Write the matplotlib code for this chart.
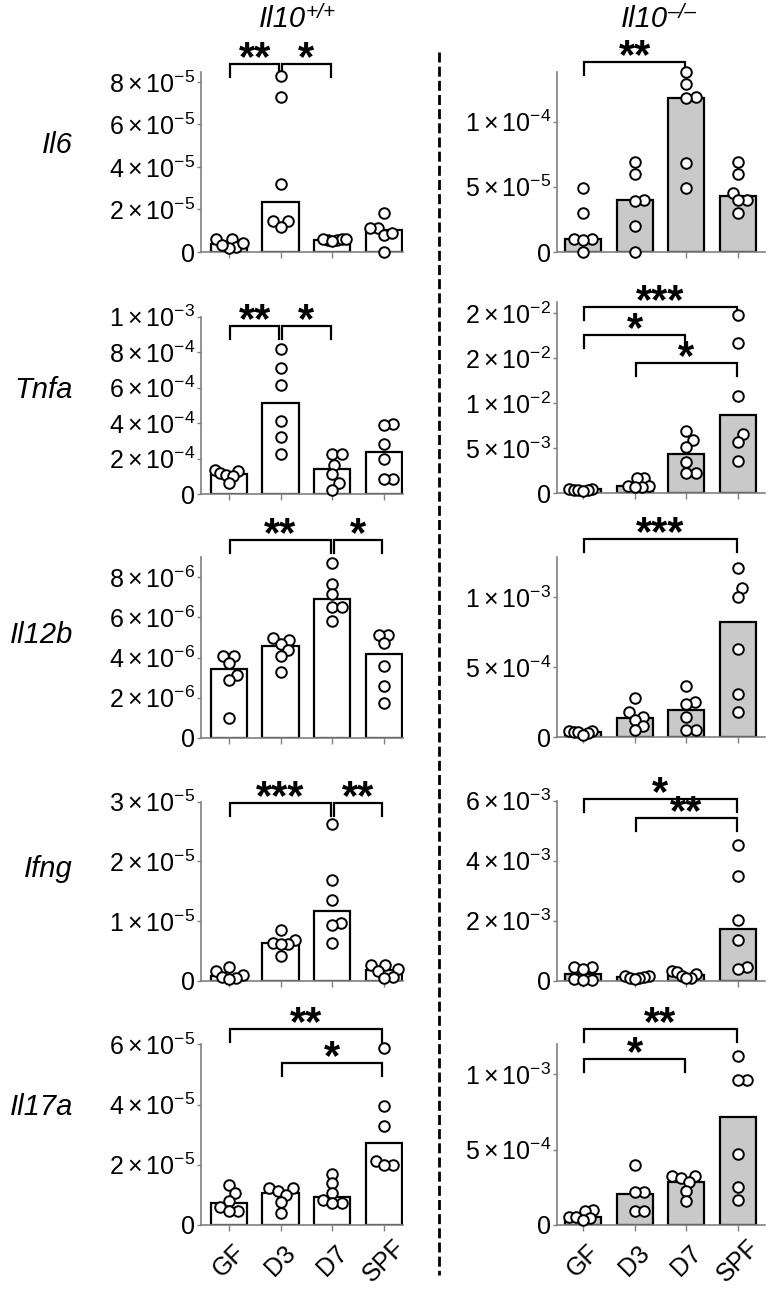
"""
Expressão de citocinas (GF, D3, D7, SPF) em Il10+/+ e Il10-/-.
"""
import numpy as np
import matplotlib
matplotlib.use('Agg')
import matplotlib.pyplot as plt
from matplotlib.lines import Line2D
from matplotlib.transforms import blended_transform_factory, offset_copy

plt.rcParams['font.family'] = ['Liberation Sans', 'DejaVu Sans']
plt.rcParams['mathtext.fontset'] = 'custom'
plt.rcParams['mathtext.rm'] = 'Liberation Sans'
plt.rcParams['mathtext.it'] = 'Liberation Sans:italic'
plt.rcParams['mathtext.bf'] = 'Liberation Sans:bold'
plt.rcParams['mathtext.fallback'] = 'stixsans'

# ---------------- dados ----------------
groups = ['GF', 'D3', 'D7', 'SPF']
genes = ['Il6', 'Tnfa', 'Il12b', 'Ifng', 'Il17a']

# Il6
il6_wt_bar = [3.8e-6, 2.37e-5, 5.6e-6, 1.03e-5]
il6_wt_pts = [[6.0e-6, 6.2e-6, 2.2e-6, 2.0e-6, 3.5e-6, 4.0e-6],
              [8.28e-5, 7.31e-5, 3.2e-5, 1.47e-5, 1.47e-5, 1.19e-5],
              [5.5e-6, 6.0e-6, 5.8e-6, 6.1e-6, 5.4e-6, 6.2e-6],
              [1.85e-5, 1.14e-5, 1.14e-5, 8.0e-6, 9.0e-6, 2.0e-7]]
il6_ko_bar = [1.0e-5, 4.0e-5, 1.184e-4, 4.28e-5]
il6_ko_pts = [[4.9e-5, 3.0e-5, 1.0e-5, 1.0e-5, 0.95e-5, 0.0],
              [6.9e-5, 6.0e-5, 4.0e-5, 3.9e-5, 2.0e-5, 0.0],
              [1.38e-4, 1.285e-4, 1.185e-4, 1.18e-4, 6.86e-5, 4.92e-5],
              [6.9e-5, 6.0e-5, 4.55e-5, 4.0e-5, 3.95e-5, 3.0e-5]]

# Tnfa
tnfa_wt_bar = [1.13e-4, 5.16e-4, 1.43e-4, 2.38e-4]
tnfa_wt_pts = [[1.35e-4, 1.3e-4, 1.2e-4, 1.1e-4, 1.05e-4, 0.66e-4],
               [8.16e-4, 7.09e-4, 6.15e-4, 4.15e-4, 3.21e-4, 2.25e-4],
               [2.25e-4, 2.25e-4, 1.65e-4, 1.13e-4, 0.62e-4, 0.24e-4],
               [3.96e-4, 3.9e-4, 2.81e-4, 1.97e-4, 0.86e-4, 0.86e-4]]
tnfa_ko_bar = [4.5e-4, 8.3e-4, 4.32e-3, 8.76e-3]
tnfa_ko_pts = [[5e-4, 4.5e-4, 4e-4, 4e-4, 3.5e-4, 3e-4],
               [1.75e-3, 1.7e-3, 8.5e-4, 8e-4, 7.5e-4, 7e-4],
               [6.9e-3, 5.9e-3, 5.2e-3, 3.45e-3, 2.25e-3, 2.25e-3],
               [1.985e-2, 1.67e-2, 1.08e-2, 6.6e-3, 5.7e-3, 3.6e-3]]

# Il12b
il12b_wt_bar = [3.44e-6, 4.58e-6, 6.9e-6, 4.16e-6]
il12b_wt_pts = [[4.09e-6, 4.09e-6, 3.71e-6, 3.13e-6, 2.88e-6, 1.0e-6],
                [4.96e-6, 4.88e-6, 4.66e-6, 4.37e-6, 4.09e-6, 3.29e-6],
                [8.74e-6, 7.65e-6, 7.17e-6, 6.54e-6, 6.54e-6, 5.84e-6],
                [5.12e-6, 5.12e-6, 4.71e-6, 3.59e-6, 2.6e-6, 1.71e-6]]
il12b_ko_bar = [4.0e-5, 1.36e-4, 1.95e-4, 8.21e-4]
il12b_ko_pts = [[4.5e-5, 4.5e-5, 4e-5, 4e-5, 3e-5, 1.5e-5],
                [2.79e-4, 1.79e-4, 1.48e-4, 1.24e-4, 0.81e-4, 0.52e-4],
                [3.67e-4, 2.55e-4, 2.4e-4, 1.48e-4, 0.52e-4, 0.52e-4],
                [1.207e-3, 1.064e-3, 1.005e-3, 6.29e-4, 3.1e-4, 1.79e-4]]

# Ifng
ifng_wt_bar = [7.8e-7, 6.26e-6, 1.173e-5, 1.79e-6]
ifng_wt_pts = [[2.35e-6, 1.65e-6, 0.9e-6, 0.65e-6, 0.5e-6, 0.3e-6],
               [8.5e-6, 6.9e-6, 6.4e-6, 6.15e-6, 6.1e-6, 4.1e-6],
               [2.63e-5, 1.69e-5, 1.35e-5, 9.7e-6, 9.3e-6, 6.4e-6],
               [2.6e-6, 2.6e-6, 1.9e-6, 1.7e-6, 0.6e-6, 0.5e-6]]
ifng_ko_bar = [2.4e-4, 1.2e-4, 1.9e-4, 1.72e-3]
ifng_ko_pts = [[4.7e-4, 4.7e-4, 3.8e-4, 0.5e-4, 0.3e-4, 0.2e-4],
               [1.7e-4, 1.5e-4, 1.3e-4, 1.0e-4, 0.8e-4, 0.6e-4],
               [3.2e-4, 3.0e-4, 2.2e-4, 1.5e-4, 1.0e-4, 0.8e-4],
               [4.52e-3, 3.49e-3, 2.04e-3, 1.36e-3, 4.7e-4, 3.8e-4]]

# Il17a
il17a_wt_bar = [7.4e-6, 1.07e-5, 9.2e-6, 2.73e-5]
il17a_wt_pts = [[1.33e-5, 1.05e-5, 8.1e-6, 6.1e-6, 4.8e-6, 4.8e-6],
                [1.22e-5, 1.22e-5, 1.13e-5, 1.0e-5, 7.5e-6, 4.1e-6],
                [1.71e-5, 1.38e-5, 1.05e-5, 8.3e-6, 7.2e-6, 7.2e-6],
                [5.88e-5, 3.94e-5, 3.28e-5, 2.14e-5, 1.98e-5, 1.98e-5]]
il17a_ko_bar = [5.5e-5, 2.06e-4, 2.88e-4, 7.15e-4]
il17a_ko_pts = [[1.0e-4, 0.9e-4, 0.55e-4, 0.5e-4, 0.45e-4, 0.3e-4],
                [4.0e-4, 2.2e-4, 2.2e-4, 0.95e-4, 0.95e-4],
                [3.25e-4, 3.25e-4, 3.1e-4, 2.85e-4, 2.25e-4, 1.6e-4],
                [1.12e-3, 9.65e-4, 9.6e-4, 4.73e-4, 2.5e-4, 1.66e-4]]

# eixos y
il6_wt_ticks = [0, 2e-5, 4e-5, 6e-5, 8e-5]
il6_ko_ticks = [0, 5e-5, 1e-4]
tnfa_wt_ticks = [0, 2e-4, 4e-4, 6e-4, 8e-4, 1e-3]
tnfa_ko_ticks = [0, 5e-3, 1e-2, 1.5e-2, 2e-2]
il12b_wt_ticks = [0, 2e-6, 4e-6, 6e-6, 8e-6]
il12b_ko_ticks = [0, 5e-4, 1e-3]
ifng_wt_ticks = [0, 1e-5, 2e-5, 3e-5]
ifng_ko_ticks = [0, 2e-3, 4e-3, 6e-3]
il17a_wt_ticks = [0, 2e-5, 4e-5, 6e-5]
il17a_ko_ticks = [0, 5e-4, 1e-3]

# comparações significativas (grupo i, grupo j, rótulo)
il6_wt_sig = [(0, 1, '**'), (1, 2, '*')]
il6_ko_sig = [(0, 2, '**')]
tnfa_wt_sig = [(0, 1, '**'), (1, 2, '*')]
tnfa_ko_sig = [(0, 3, '***'), (0, 2, '*'), (1, 3, '*')]
il12b_wt_sig = [(0, 2, '**'), (2, 3, '*')]
il12b_ko_sig = [(0, 3, '***')]
ifng_wt_sig = [(0, 2, '***'), (2, 3, '**')]
ifng_ko_sig = [(0, 3, '*'), (1, 3, '**')]
il17a_wt_sig = [(0, 3, '**'), (1, 3, '*')]
il17a_ko_sig = [(0, 3, '**'), (0, 2, '*')]

# ---------------- layout (pixels) ----------------
W, H = 770, 1309
left_x = (201, 403)
right_x = (557, 765)
left_rows = [(252, 72), (494.3, 316.7), (737.7, 557.3), (980.7, 801.7), (1225, 1044.3)]
right_rows = [(252, 72), (493.3, 301.7), (737.3, 557.3), (980.7, 800.7), (1225, 1044.3)]
left_ymax = [8.47e-5, 1e-3, 9.0e-6, 3e-5, 6e-5]
right_ymax = [1.38e-4, 2.13e-2, 1.286e-3, 6e-3, 1.2e-3]
left_sig_y = [[1.043, 1.043], [0.948, 0.948], [1.096, 1.096], [0.994, 0.994], [1.083, 0.898]]
right_sig_y = [[1.057], [0.974, 0.826, 0.679], [1.102], [1.008, 0.906], [1.083, 0.917]]
label_base_y = [153, 398, 643, 877, 1115]

spine_gray = '#808080'
bar_gray = '#c9c9c9'
DOT = 11.0     # diâmetro do ponto em px
SPREAD = 14.0  # deslocamento máximo dos pontos em px


def swarm(ypx, d, limit):
    """Deslocamentos horizontais (px) tipo beeswarm, comprimidos dentro da barra."""
    order = np.argsort(ypx)
    placed = []
    out = np.zeros(len(ypx))
    for k in order:
        y = ypx[k]
        cands = [0.0]
        for (px, py) in placed:
            dy = y - py
            if abs(dy) < d:
                dx = np.sqrt(d * d - dy * dy)
                cands += [px + dx, px - dx]
        ok = [c for c in cands
              if all((c - px) ** 2 + (y - py) ** 2 >= d * d - 1e-6 for px, py in placed)]
        best = min(ok, key=lambda c: (abs(c), -c))
        placed.append((best, y))
        out[k] = best
    m = np.abs(out).max()
    if m > limit:
        out *= limit / m
    return out


def tick_label(v):
    if v == 0:
        return '0'
    e = int(np.floor(np.log10(v) + 1e-9))
    m = int(round(v / 10 ** e))
    return r'$%d\times10^{%d}$' % (m, e)


fig = plt.figure(figsize=(W / 100, H / 100), dpi=100)


def draw_panel(xr, row, ymax, bars, pts, ticks, sig, sig_y, face, xlim, last):
    ybot, ytop = row
    ax = fig.add_axes([xr[0] / W, 1 - ybot / H, (xr[1] - xr[0]) / W, (ybot - ytop) / H])
    ax.set_xlim(*xlim)
    ax.set_ylim(0, ymax)
    x = np.arange(len(groups))
    ax.bar(x, bars, width=0.7, color=face, edgecolor='black', linewidth=1.6, zorder=2)

    ppu = ax.transData.transform((1, 0))[0] - ax.transData.transform((0, 0))[0]
    for i, vals in enumerate(pts):
        vals = np.asarray(vals)
        ypx = ax.transData.transform(np.c_[np.zeros(len(vals)), vals])[:, 1]
        off = swarm(ypx, DOT * 0.85, SPREAD)
        ax.scatter(i + off / ppu, vals, s=58, facecolor='white', edgecolor='black',
                   linewidth=1.4, zorder=3, clip_on=False)

    for s in ['top', 'right']:
        ax.spines[s].set_visible(False)
    for s in ['left', 'bottom']:
        ax.spines[s].set_color(spine_gray)
        ax.spines[s].set_linewidth(1.2)

    ax.set_yticks(ticks)
    ax.set_yticklabels([tick_label(t) for t in ticks])
    ax.tick_params(axis='y', length=3, width=1, color=spine_gray, pad=1, labelsize=18)
    ax.set_xticks(x)
    if last:
        ax.set_xticklabels(groups, rotation=45, ha='center', va='center',
                           rotation_mode='anchor', fontsize=18)
        ax.tick_params(axis='x', length=4, width=1, color=spine_gray, pad=22)
    else:
        ax.set_xticklabels([])
        ax.tick_params(axis='x', length=4, width=1, color=spine_gray)

    # colchetes de significância
    trans = blended_transform_factory(ax.transData, ax.transAxes)
    leg = 13.0 / (ybot - ytop)
    txt_trans = offset_copy(trans, fig=fig, y=-6.0, units='dots')
    for (i, j, lab), yb in zip(sig, sig_y):
        x0, x1 = i + 0.03, j - 0.03
        ax.plot([x0, x0, x1, x1], [yb - leg, yb, yb, yb - leg], transform=trans,
                color='black', lw=1.6, clip_on=False, solid_joinstyle='miter')
        ax.text((x0 + x1) / 2, yb, lab, transform=txt_trans, ha='center', va='baseline',
                fontsize=30, fontweight='bold', clip_on=False)
    return ax


wt_bars = [il6_wt_bar, tnfa_wt_bar, il12b_wt_bar, ifng_wt_bar, il17a_wt_bar]
wt_pts = [il6_wt_pts, tnfa_wt_pts, il12b_wt_pts, ifng_wt_pts, il17a_wt_pts]
wt_ticks = [il6_wt_ticks, tnfa_wt_ticks, il12b_wt_ticks, ifng_wt_ticks, il17a_wt_ticks]
wt_sig = [il6_wt_sig, tnfa_wt_sig, il12b_wt_sig, ifng_wt_sig, il17a_wt_sig]
ko_bars = [il6_ko_bar, tnfa_ko_bar, il12b_ko_bar, ifng_ko_bar, il17a_ko_bar]
ko_pts = [il6_ko_pts, tnfa_ko_pts, il12b_ko_pts, ifng_ko_pts, il17a_ko_pts]
ko_ticks = [il6_ko_ticks, tnfa_ko_ticks, il12b_ko_ticks, ifng_ko_ticks, il17a_ko_ticks]
ko_sig = [il6_ko_sig, tnfa_ko_sig, il12b_ko_sig, ifng_ko_sig, il17a_ko_sig]

for r in range(len(genes)):
    last = r == len(genes) - 1
    draw_panel(left_x, left_rows[r], left_ymax[r], wt_bars[r], wt_pts[r], wt_ticks[r],
               wt_sig[r], left_sig_y[r], 'white', (-0.54, 3.37), last)
    draw_panel(right_x, right_rows[r], right_ymax[r], ko_bars[r], ko_pts[r], ko_ticks[r],
               ko_sig[r], right_sig_y[r], bar_gray, (-0.5, 3.52), last)
    fig.text(73 / W, 1 - label_base_y[r] / H, genes[r], ha='right', va='baseline',
             fontsize=21, style='italic')

# cabeçalhos: "Il10" em itálico + sobrescrito
for xc, sup in [(282, '+/+'), (644, '\u2013/\u2013')]:
    t = fig.text(xc / W, 1 - 27 / H, 'Il10', ha='center', va='baseline',
                 fontsize=21, style='italic')
    plt.annotate(sup, xy=(1.0, 1.08), xycoords=t, ha='left', va='top',
                 fontsize=15, style='italic')

# separador tracejado
fig.add_artist(Line2D([439 / W, 439 / W], [1 - 52 / H, 1 - 1275 / H], transform=fig.transFigure,
                      color='black', lw=2, dashes=(3.6, 1.5)))

fig.savefig('out.png', dpi=100, facecolor='white')
